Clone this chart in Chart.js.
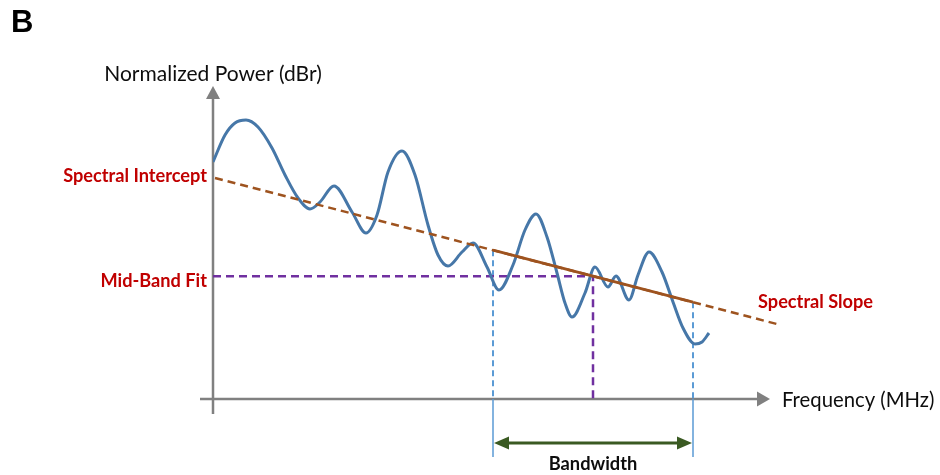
<!DOCTYPE html>
<html>
<head>
<meta charset="utf-8">
<script src="https://cdn.jsdelivr.net/npm/chart.js@4.4.1/dist/chart.umd.min.js"></script>
<style>
  html, body { margin: 0; padding: 0; background: #ffffff; }
  #wrap { width: 940px; height: 475px; }
</style>
</head>
<body>
<div id="wrap"><canvas id="c" width="940" height="475"></canvas></div>
<script>
// Power spectrum samples: frequency (MHz) and normalized power (dBr)
const freqMHz = [
  0, 0.3, 0.55, 0.825, 1.125, 1.475, 1.8, 2.125, 2.425, 2.675,
  3.025, 3.475, 3.825, 4.1, 4.375, 4.725, 5.05, 5.375, 5.625, 5.875,
  6.225, 6.5, 6.85, 7.15, 7.5, 7.8, 8.075, 8.35, 8.6, 8.8,
  8.975, 9.3, 9.55, 9.875, 10.075, 10.4, 10.625, 10.9, 11.225, 11.5,
  11.75, 12.05, 12.225, 12.4
];
const powerDbr = [
  11.85, 13.2, 13.8, 13.95, 13.6, 12.55, 11.2, 10.05, 9.5, 9.85,
  10.65, 9.35, 8.3, 9.2, 11.35, 12.4, 11.2, 8.7, 7.2, 6.65,
  7.35, 7.8, 6.6, 5.45, 6.7, 8.45, 9.25, 8.1, 6.3, 4.8,
  4.1, 5.3, 6.6, 5.6, 6.15, 4.95, 6.2, 7.35, 6.35, 4.85,
  3.55, 2.75, 2.85, 3.3
];

// Linear fit of the spectrum (dBr and dBr/MHz)
const spectralIntercept = 11.08;
const spectralSlope = -0.52;
const fitRangeMHz = [0.05, 14.2];

// Analysis band (MHz)
const bandMHz = [7.0, 12.0];

// Axis extents in data units
const xRange = [0, 14.5];
const yRange = [-3.5, 15];

const slopeAt = f => spectralIntercept + spectralSlope * f;
const midBandMHz = (bandMHz[0] + bandMHz[1]) / 2;
const midBandFit = slopeAt(midBandMHz);
const pt = (x, y) => ({ x, y });

const BROWN = '#9e531f';
const BLUE = '#4677a8';
const PURPLE = '#7030a0';
const EDGE = '#5b9bd5';
const GREEN = '#3a5a22';
const RED = '#c00000';
const AXIS = '#808080';
const FONT = "Lato, 'Open Sans', sans-serif";

function tri(ctx, tip, b1, b2, color) {
  ctx.beginPath();
  ctx.moveTo(tip[0], tip[1]);
  ctx.lineTo(b1[0], b1[1]);
  ctx.lineTo(b2[0], b2[1]);
  ctx.closePath();
  ctx.fillStyle = color;
  ctx.fill();
}

const axesAndNotes = {
  id: 'axesAndNotes',
  beforeDatasetsDraw(chart) {
    const { ctx } = chart;
    const xs = chart.scales.x, ys = chart.scales.y;
    const X = v => xs.getPixelForValue(v), Y = v => ys.getPixelForValue(v);
    ctx.save();
    ctx.strokeStyle = AXIS;
    ctx.lineWidth = 2.5;
    ctx.lineCap = 'butt';
    // vertical axis
    ctx.beginPath();
    ctx.moveTo(X(0), Y(-0.75));
    ctx.lineTo(X(0), Y(15.0));
    ctx.stroke();
    tri(ctx, [X(0), Y(15.65)], [X(0) - 7, Y(15.0)], [X(0) + 7, Y(15.0)], AXIS);
    // horizontal axis
    ctx.beginPath();
    ctx.moveTo(X(-0.325), Y(0));
    ctx.lineTo(X(13.6), Y(0));
    ctx.stroke();
    tri(ctx, [X(13.925), Y(0)], [X(13.6), Y(0) - 7.5], [X(13.6), Y(0) + 7.5], AXIS);
    ctx.restore();
  },
  afterDraw(chart) {
    const { ctx } = chart;
    const xs = chart.scales.x, ys = chart.scales.y;
    const X = v => xs.getPixelForValue(v), Y = v => ys.getPixelForValue(v);
    ctx.save();

    // bandwidth double arrow
    const ay = Y(-2.2), ax1 = X(bandMHz[0]), ax2 = X(bandMHz[1]);
    ctx.strokeStyle = GREEN;
    ctx.lineWidth = 3;
    ctx.beginPath();
    ctx.moveTo(ax1 + 12, ay);
    ctx.lineTo(ax2 - 12, ay);
    ctx.stroke();
    tri(ctx, [ax1 + 1, ay], [ax1 + 16, ay - 6.5], [ax1 + 16, ay + 6.5], GREEN);
    tri(ctx, [ax2 - 1, ay], [ax2 - 16, ay - 6.5], [ax2 - 16, ay + 6.5], GREEN);

    // panel letter
    ctx.fillStyle = '#000000';
    ctx.font = "bold 31px 'Liberation Sans', Arial, sans-serif";
    ctx.textAlign = 'left';
    ctx.textBaseline = 'top';
    ctx.fillText('B', 11, 8);
    ctx.textBaseline = 'middle';

    // axis titles
    ctx.font = '21px ' + FONT;
    ctx.fillStyle = '#0d0d0d';
    ctx.textAlign = 'center';
    ctx.fillText('Normalized Power (dBr)', X(0), Y(16.25));
    ctx.font = '20.3px ' + FONT;
    ctx.textAlign = 'left';
    ctx.fillText('Frequency (MHz)', X(14.225), Y(-0.05));

    ctx.font = 'bold 18.3px ' + FONT;
    ctx.textAlign = 'center';
    ctx.fillText('Bandwidth', X(midBandMHz), Y(-3.25));

    // fit annotations
    ctx.fillStyle = RED;
    ctx.font = 'bold 18.2px ' + FONT;
    ctx.textAlign = 'right';
    ctx.fillText('Spectral Intercept', X(-0.15), Y(spectralIntercept) - 1);
    ctx.fillText('Mid-Band Fit', X(-0.15), Y(midBandFit - 0.25));
    ctx.textAlign = 'left';
    ctx.fillText('Spectral Slope', X(13.625), Y(4.85));

    ctx.restore();
  }
};

const line = (label, data, color, width, dash, order, extra) => Object.assign({
  label, data, borderColor: color, borderWidth: width,
  borderDash: dash || [], order, fill: false, pointRadius: 0, tension: 0
}, extra || {});

new Chart(document.getElementById('c'), {
  type: 'line',
  data: {
    datasets: [
      line('Spectral slope (band)',
        [pt(bandMHz[0], slopeAt(bandMHz[0])), pt(bandMHz[1], slopeAt(bandMHz[1]))],
        BROWN, 2.8, null, 0),
      line('Spectral slope',
        [pt(fitRangeMHz[0], slopeAt(fitRangeMHz[0])), pt(fitRangeMHz[1], slopeAt(fitRangeMHz[1]))],
        BROWN, 2.5, [8, 5], 1),
      line('Spectrum', freqMHz.map((f, i) => pt(f, powerDbr[i])),
        BLUE, 3, null, 2, { cubicInterpolationMode: 'monotone' }),
      line('Mid-band fit',
        [pt(0, midBandFit), pt(midBandMHz, midBandFit), pt(midBandMHz, 0)],
        PURPLE, 2.5, [8, 5], 3),
      line('Band start',
        [pt(bandMHz[0], slopeAt(bandMHz[0])), pt(bandMHz[0], 0)],
        EDGE, 2, [6, 4], 4),
      line('Band end',
        [pt(bandMHz[1], slopeAt(bandMHz[1])), pt(bandMHz[1], 0)],
        EDGE, 2, [6, 4], 4),
      line('Band start marker',
        [pt(bandMHz[0], 0), pt(bandMHz[0], -2.9)],
        EDGE, 1.5, null, 4),
      line('Band end marker',
        [pt(bandMHz[1], 0), pt(bandMHz[1], -2.9)],
        EDGE, 1.5, null, 4)
    ]
  },
  options: {
    responsive: false,
    devicePixelRatio: 1,
    animation: false,
    events: [],
    layout: { padding: { left: 213, right: 147, top: 99, bottom: 6 } },
    plugins: { legend: { display: false }, tooltip: { enabled: false }, title: { display: false } },
    scales: {
      x: { type: 'linear', min: xRange[0], max: xRange[1], display: false },
      y: { type: 'linear', min: yRange[0], max: yRange[1], display: false }
    }
  },
  plugins: [axesAndNotes]
});
</script>
</body>
</html>
